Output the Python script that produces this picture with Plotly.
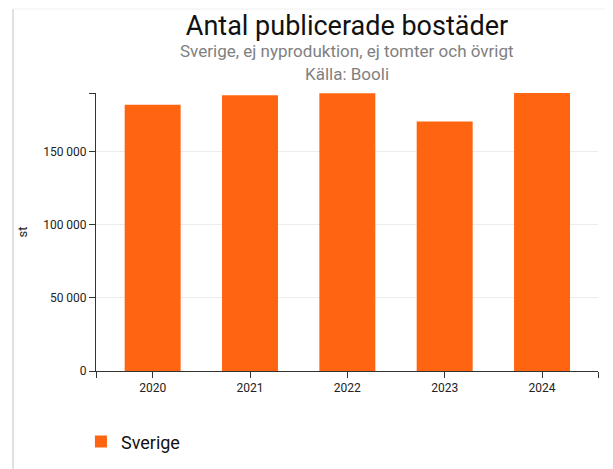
import plotly.graph_objects as go

years = [2020, 2021, 2022, 2023, 2024]
year_labels = ["2020", "2021", "2022", "2023", "2024"]
values = [182000, 188500, 189800, 170600, 190000]
series_name = "Sverige"
y_ticks = [0, 50000, 100000, 150000]

title = "Antal publicerade bostäder"
subtitle = "Sverige, ej nyproduktion, ej tomter och övrigt"
source = "Källa: Booli"

ORANGE = "#ff6411"
FONT = "Roboto, Inter, sans-serif"

x_range = [2019.418, 2024.575]
y_max = max(values)

# page body has an 8px margin, so the figure is sized to fit the window
W, H = 605, 461
ML, MR, MT, MB = 88, 15, 85, 98
PW, PH = W - ML - MR, H - MT - MB

fig = go.Figure()
fig.add_trace(go.Bar(
    x=years, y=values, name=series_name,
    marker=dict(color=ORANGE, line=dict(width=0)),
    width=0.575, showlegend=True,
))

fig.update_layout(
    width=W, height=H,
    margin=dict(l=ML, r=MR, t=MT, b=MB, autoexpand=False),
    paper_bgcolor="white", plot_bgcolor="white",
    separators=", ",
    font=dict(family=FONT, color="#222", size=12),
    showlegend=True,
    legend=dict(
        x=-0.03, y=-0.255, xanchor="left", yanchor="middle",
        orientation="h", font=dict(size=18, color="#111", family=FONT),
        bgcolor="rgba(0,0,0,0)",
    ),
    title=dict(text=title, x=0.5, xref="paper", xanchor="center",
               y=1 - 18 / H, yref="container", yanchor="middle",
               font=dict(size=27, color="#111", family=FONT)),
    bargap=0.425,
)

fig.add_annotation(text=subtitle, xref="paper", yref="paper", x=0.5, y=1.0,
                   yshift=42, xanchor="center", yanchor="middle", showarrow=False,
                   font=dict(size=17, color="#808080", family=FONT))
fig.add_annotation(text=source, xref="paper", yref="paper", x=0.5, y=1.0,
                   yshift=19, xanchor="center", yanchor="middle", showarrow=False,
                   font=dict(size=17, color="#808080", family=FONT))

fig.update_xaxes(
    range=x_range,
    tickmode="array",
    tickvals=[x_range[0]] + years + [x_range[1]],
    ticktext=[""] + year_labels + [""],
    ticks="outside", ticklen=6, tickcolor="#333", tickwidth=1,
    showline=True, linecolor="#333", linewidth=1,
    showgrid=False, zeroline=False, automargin=False,
    tickfont=dict(size=12, color="#222"),
)
fig.update_yaxes(
    range=[0, y_max],
    tickmode="array",
    tickvals=y_ticks + [y_max],
    ticktext=[f"{v:,}".replace(",", " ") for v in y_ticks] + [""],
    ticks="outside", ticklen=6, tickcolor="#333", tickwidth=1,
    showline=True, linecolor="#333", linewidth=1,
    showgrid=True, gridcolor="#ececec", gridwidth=1,
    zeroline=False, automargin=False,
    title=dict(text="st", font=dict(size=13, color="#222"), standoff=12),
    tickfont=dict(size=12, color="#222"),
)

# card shadow edges (left and top)
xl = (5 - ML) / PW
yt = (MT + PH - 1) / PH
fig.add_shape(type="line", xref="paper", yref="paper",
              x0=xl, x1=xl, y0=-MB / PH, y1=yt,
              line=dict(color="#e0e0e0", width=2))
fig.add_shape(type="line", xref="paper", yref="paper",
              x0=xl, x1=(PW + MR) / PW, y0=yt, y1=yt,
              line=dict(color="#f0f0f0", width=1))

fig.write_html("out.html")
